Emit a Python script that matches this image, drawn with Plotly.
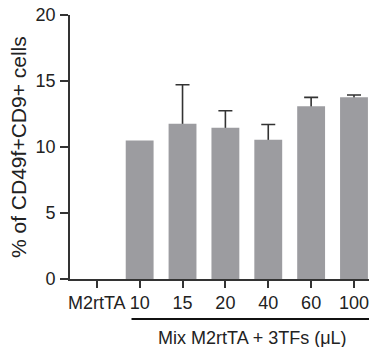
import plotly.graph_objects as go

categories = ["M2rtTA", "10", "15", "20", "40", "60", "100"]
values = [0, 10.5, 11.77, 11.46, 10.55, 13.08, 13.76]
errors_up = [None, None, 2.95, 1.29, 1.16, 0.68, 0.18]
y_ticks = [0, 5, 10, 15, 20]
y_title = "% of CD49f+CD9+ cells"
group_label = "Mix M2rtTA + 3TFs (\u03bcL)"

x_idx = list(range(len(categories)))
# points that carry an error bar
e_x = [i for i, e in zip(x_idx, errors_up) if e is not None]
e_y = [values[i] for i in e_x]
e_up = [errors_up[i] for i in e_x]
e_down = [0.8 for _ in e_x]  # hidden under the real bars

FONT = "Liberation Sans, Arial, sans-serif"
BAR = "#9c9ca0"
INK = "#333333"
TXT = "#222222"

fig = go.Figure()
fig.add_trace(go.Bar(
    x=e_x, y=e_y, width=0.65,
    marker=dict(color="rgba(0,0,0,0)", line=dict(width=0)),
    error_y=dict(type="data", symmetric=False, array=e_up, arrayminus=e_down,
                 color=INK, thickness=1.6, width=7),
    showlegend=False, hoverinfo="skip",
))
fig.add_trace(go.Bar(
    x=x_idx, y=values, width=0.65,
    marker=dict(color=BAR, line=dict(width=0)),
    showlegend=False,
))

fig.update_layout(
    width=380, height=347,
    margin=dict(l=70, r=11, t=15, b=68, autoexpand=False),
    paper_bgcolor="white", plot_bgcolor="white",
    barmode="overlay",
    font=dict(family=FONT, size=18, color=TXT),
    xaxis=dict(
        range=[-0.625, 6.35], tickmode="array", tickvals=x_idx, ticktext=categories,
        showline=True, linecolor=INK, linewidth=1.6,
        ticks="outside", ticklen=7, tickwidth=1.5, tickcolor=INK,
        showgrid=False, zeroline=False, tickfont=dict(size=18),
        automargin=False,
    ),
    yaxis=dict(
        range=[0, 20], tickmode="array", tickvals=y_ticks,
        showline=True, linecolor=INK, linewidth=1.6,
        ticks="outside", ticklen=8, tickwidth=1.5, tickcolor=INK,
        showgrid=False, zeroline=False, tickfont=dict(size=18),
        ticklabelstandoff=1, ticklabeloverflow="allow", automargin=False,
    ),
    annotations=[
        dict(text=y_title, textangle=-90, xref="paper", yref="paper",
             x=0, y=0.5, xanchor="center", yanchor="middle", xshift=-52,
             showarrow=False, font=dict(size=21, family=FONT, color=TXT)),
        dict(text=group_label, xref="x", yref="paper",
             x=(1 - 0.19 + 6 + 0.44) / 2, y=0, xanchor="center", yanchor="middle",
             yshift=-59, showarrow=False, font=dict(size=18, family=FONT, color=TXT)),
    ],
    shapes=[
        dict(type="line", xref="x", yref="paper", x0=1 - 0.19, x1=6 + 0.44,
             y0=-40 / 264, y1=-40 / 264, line=dict(color="#111111", width=2)),
    ],
)

fig.write_html("out.html",
               config={"displayModeBar": False},
               post_script="document.body.style.margin='0';document.body.style.overflow='hidden';")
